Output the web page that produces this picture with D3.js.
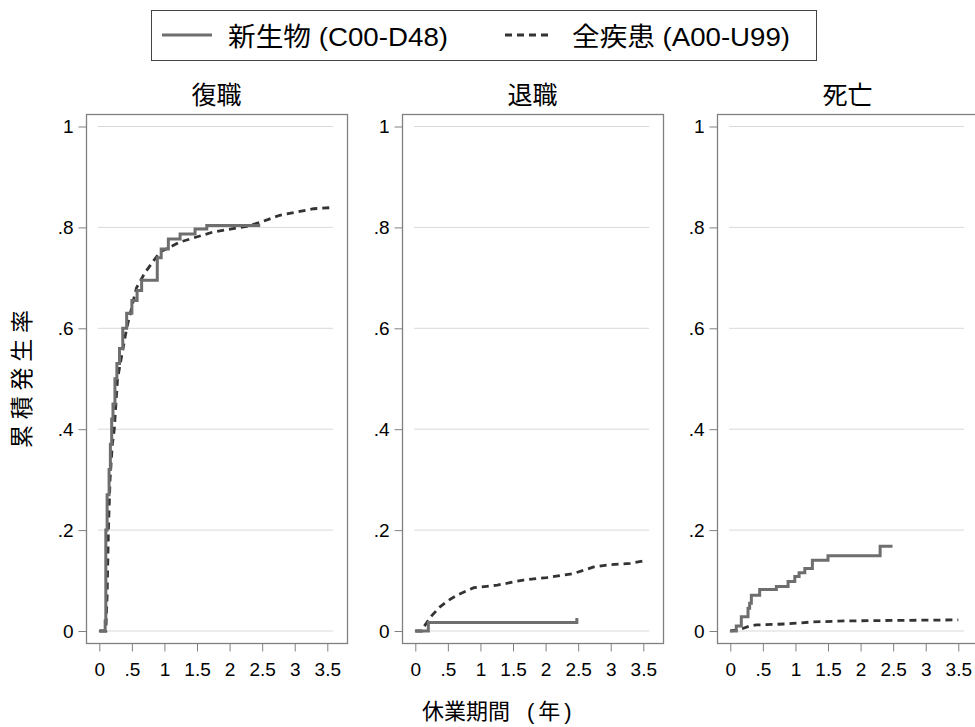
<!DOCTYPE html>
<html>
<head>
<meta charset="utf-8">
<script src="https://cdn.jsdelivr.net/npm/d3@7"></script>
<style>
  body { margin: 0; background: #fff; }
  svg text { font-family: "Liberation Sans", Arial, "Noto Sans CJK JP", sans-serif; fill: #000; }
</style>
</head>
<body>
<div id="chart"></div>
<script>
// panels and ticks
let panel_titles = ["復職", "退職", "死亡"];
let x_ticks = [0, 0.5, 1, 1.5, 2, 2.5, 3, 3.5];
let x_tick_labels = ["0", ".5", "1", "1.5", "2", "2.5", "3", "3.5"];
let y_ticks = [0, 0.2, 0.4, 0.6, 0.8, 1];
let y_tick_labels = ["0", ".2", ".4", ".6", ".8", "1"];
let legend_labels = ["新生物 (C00-D48)", "全疾患 (A00-U99)"];

// cumulative incidence, [years, value]
// 新生物 (solid, step)
let neo_return = [[0,0],[0.09,0.02],[0.1,0.2],[0.12,0.27],[0.15,0.32],[0.17,0.37],[0.19,0.42],[0.21,0.45],[0.24,0.5],[0.27,0.53],[0.31,0.56],[0.36,0.6],[0.42,0.63],[0.5,0.655],[0.58,0.675],[0.65,0.695],[0.89,0.74],[0.95,0.757],[1.06,0.777],[1.24,0.787],[1.47,0.797],[1.65,0.804],[2.47,0.804]];
let neo_retire = [[0,0],[0.2,0.017],[2.48,0.026]];
let neo_death = [[0,0],[0.092,0.0099],[0.169,0.028],[0.272,0.045],[0.297,0.055],[0.323,0.071],[0.451,0.0825],[0.707,0.088],[0.887,0.098],[0.99,0.108],[1.056,0.1155],[1.144,0.124],[1.26,0.14],[1.5,0.149],[2.3,0.168],[2.49,0.168]];
// 全疾患 (dashed)
let all_return = [[0,0],[0.1,0],[0.12,0.07],[0.14,0.2],[0.165,0.3],[0.2,0.37],[0.23,0.4],[0.28,0.5],[0.42,0.6],[0.57,0.68],[0.7,0.71],[0.93,0.751],[1.24,0.771],[1.75,0.791],[2.26,0.802],[2.47,0.81],[2.77,0.824],[3.29,0.837],[3.54,0.839]];
let all_retire = [[0,0],[0.1,0],[0.13,0.008],[0.25,0.03],[0.38,0.048],[0.5,0.06],[0.64,0.071],[0.9,0.086],[1.26,0.091],[1.66,0.101],[2.02,0.106],[2.43,0.114],[2.74,0.127],[2.95,0.131],[3.3,0.134],[3.51,0.139]];
let all_death = [[0,0],[0.1,0.002],[0.19,0.005],[0.3,0.01],[0.4,0.012],[0.86,0.014],[1.27,0.018],[1.78,0.02],[2.5,0.021],[3.5,0.022]];

let solid_series = [neo_return, neo_retire, neo_death];
let dashed_series = [all_return, all_retire, all_death];

let width = 975, height = 727;
let panel_lefts = [86, 402, 717];
let panel_w = 261, panel_top = 114, panel_bottom = 643;
let solid_color = "#6e6e6e", dashed_color = "#333333";

let svg = d3.select("#chart").append("svg")
    .attr("width", width)
    .attr("height", height);

// legend
let legend = svg.append("g");
legend.append("rect")
    .attr("x", 151.5).attr("y", 10.5)
    .attr("width", 665).attr("height", 50)
    .attr("fill", "#fff").attr("stroke", "#444").attr("stroke-width", 1);
legend.append("line")
    .attr("x1", 162).attr("x2", 212).attr("y1", 35).attr("y2", 35)
    .attr("stroke", solid_color).attr("stroke-width", 3);
legend.append("text")
    .attr("x", 228).attr("y", 46)
    .attr("font-size", "26px")
    .attr("textLength", 220).attr("lengthAdjust", "spacingAndGlyphs")
    .text(legend_labels[0]);
legend.append("line")
    .attr("x1", 505).attr("x2", 549).attr("y1", 35).attr("y2", 35)
    .attr("stroke", dashed_color).attr("stroke-width", 3)
    .attr("stroke-dasharray", "7,5");
legend.append("text")
    .attr("x", 572).attr("y", 46)
    .attr("font-size", "26px")
    .attr("textLength", 218).attr("lengthAdjust", "spacingAndGlyphs")
    .text(legend_labels[1]);

let y = d3.scaleLinear().domain([0, 1]).range([631, 126.5]);

let solid_line = d3.line().curve(d3.curveStepAfter);
let dashed_line = d3.line();

panel_titles.forEach(function (title, i) {
    let left = panel_lefts[i];
    let x = d3.scaleLinear().domain([0, 3.5]).range([left + 13.3, left + 241.3]);
    let g = svg.append("g");

    // title
    g.append("text")
        .attr("x", left + panel_w / 2).attr("y", 104)
        .attr("text-anchor", "middle")
        .attr("font-size", "25px")
        .text(title);

    // grid
    g.selectAll(".grid")
        .data(y_ticks)
        .enter().append("line")
        .attr("x1", x(-0.02)).attr("x2", x(3.59))
        .attr("y1", function (d) { return y(d); })
        .attr("y2", function (d) { return y(d); })
        .attr("stroke", "#d9d9d9").attr("stroke-width", 1);

    // frame
    g.append("rect")
        .attr("x", left + 0.5).attr("y", panel_top + 0.5)
        .attr("width", panel_w).attr("height", panel_bottom - panel_top)
        .attr("fill", "none").attr("stroke", "#808080").attr("stroke-width", 1.3);

    // y axis
    let y_axis = d3.axisLeft(y)
        .tickValues(y_ticks)
        .tickFormat(function (d, j) { return y_tick_labels[j]; })
        .tickSize(8).tickPadding(5);
    let ya = g.append("g")
        .attr("transform", "translate(" + (left + 0.5) + ",0)")
        .call(y_axis);
    ya.select(".domain").remove();
    ya.selectAll(".tick line").attr("stroke", "#808080");
    ya.selectAll(".tick text").attr("font-size", "19px").attr("fill", "#000");

    // x axis
    let x_axis = d3.axisBottom(x)
        .tickValues(x_ticks)
        .tickFormat(function (d, j) { return x_tick_labels[j]; })
        .tickSize(8).tickPadding(11);
    let xa = g.append("g")
        .attr("transform", "translate(0," + (panel_bottom + 0.5) + ")")
        .call(x_axis);
    xa.select(".domain").remove();
    xa.selectAll(".tick line").attr("stroke", "#808080");
    xa.selectAll(".tick text").attr("font-size", "19px").attr("fill", "#000");

    solid_line.x(function (d) { return x(d[0]); }).y(function (d) { return y(d[1]); });
    dashed_line.x(function (d) { return x(d[0]); }).y(function (d) { return y(d[1]); });

    g.append("path")
        .datum(dashed_series[i])
        .attr("d", dashed_line)
        .attr("fill", "none")
        .attr("stroke", dashed_color).attr("stroke-width", 2.8)
        .attr("stroke-dasharray", "7,5");

    g.append("path")
        .datum(solid_series[i])
        .attr("d", solid_line)
        .attr("fill", "none")
        .attr("stroke", solid_color).attr("stroke-width", 3);
});

// axis titles
svg.append("text")
    .attr("transform", "translate(30,379) rotate(-90)")
    .attr("text-anchor", "middle")
    .attr("font-size", "23px")
    .attr("textLength", 138).attr("lengthAdjust", "spacing")
    .text("累積発生率");

let x_title = svg.append("text")
    .attr("y", 719)
    .attr("font-size", "22px");
x_title.append("tspan")
    .attr("x", 422)
    .text("休業期間");
x_title.append("tspan")
    .attr("x", 527)
    .attr("letter-spacing", "4px")
    .text("(年)");
</script>
</body>
</html>
